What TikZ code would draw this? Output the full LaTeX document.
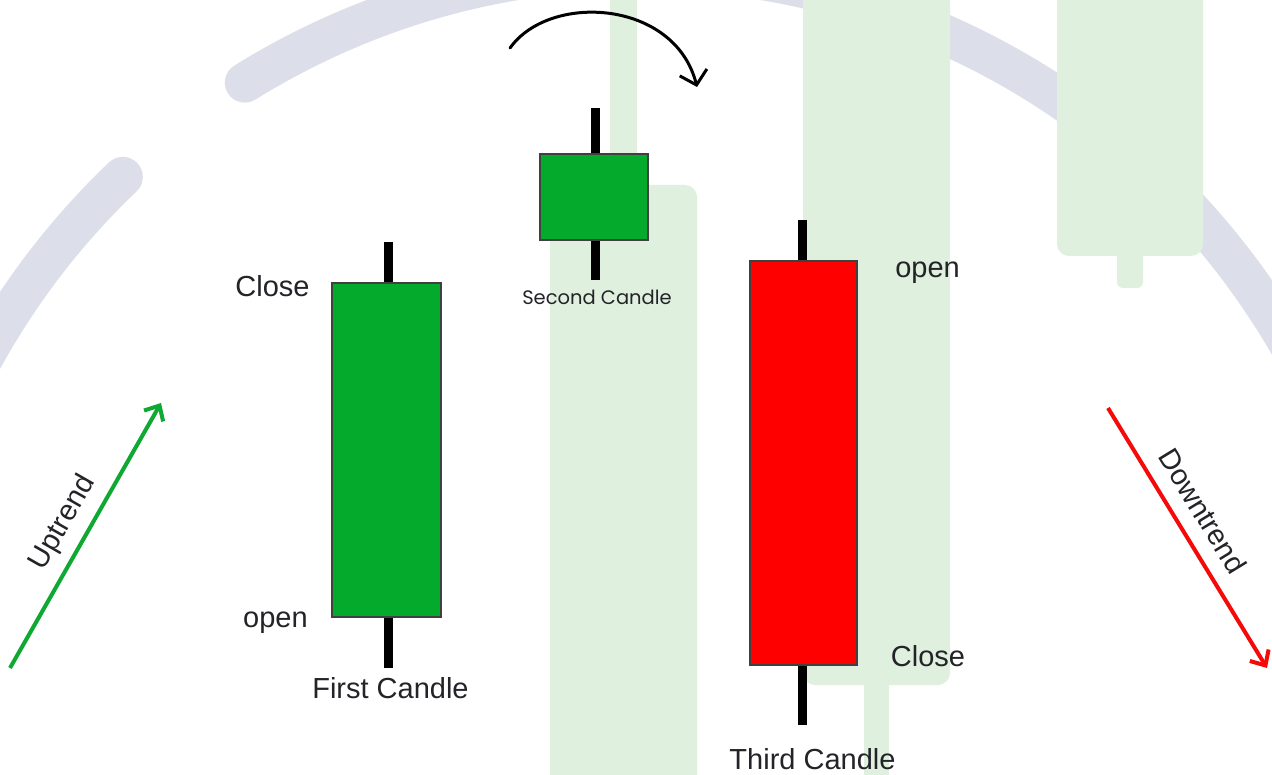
\documentclass[tikz,border=0pt]{standalone}
\usepackage{fontspec}
\setmainfont{Liberation Sans}
\newfontfamily\labfont{Liberation Sans}
\newfontfamily\popfont{Poppins}
\usetikzlibrary{arrows.meta}
\definecolor{bggreen}{RGB}{223,240,223}
\definecolor{arcgray}{RGB}{220,223,234}
\definecolor{candlegreen}{RGB}{3,170,43}
\definecolor{candlered}{RGB}{255,0,0}
\definecolor{trendgreen}{RGB}{14,168,50}
\definecolor{trendred}{RGB}{245,10,10}
\definecolor{labtext}{RGB}{35,35,40}
\begin{document}
\begin{tikzpicture}[x=1pt,y=1pt,
  arcband/.style={draw=arcgray,line width=40pt,line cap=round},
  bgcandle/.style={fill=bggreen,rounded corners=12pt},
  bgwick/.style={fill=bggreen,rounded corners=6pt},
  wick/.style={draw=black,line width=9pt},
  body/.style={draw=black!75,line width=1.2pt},
  lbl/.style={inner sep=0pt,text=labtext,font=\labfont\fontsize{29}{34}\selectfont},
  smalllbl/.style={inner sep=0pt,text=labtext,font=\popfont\fontsize{19.5}{23}\selectfont},
  trend/.style={line width=4pt,-{Straight Barb[length=12pt,width=22pt]}}]
\useasboundingbox (0,0) rectangle (1272,-775);
\clip (0,0) rectangle (1272,-775);
\fill[white] (0,0) rectangle (1272,-775);
% grey arc band
\draw[arcband] ([shift={(133.6:750)}]640,-720) arc[start angle=133.6,end angle=175,radius=750pt];
\draw[arcband] ([shift={(121.8:750)}]640,-720) arc[start angle=121.8,end angle=5,radius=750pt];
% background candles
\fill[bgcandle] (550,-800) -- (550,-185) -- (697,-185) -- (697,-800) -- cycle;
\fill[bggreen] (610,20) rectangle (637,-200);
\fill[bgcandle] (803,30) -- (803,-685) -- (950,-685) -- (950,30) -- cycle;
\fill[bggreen] (864,-670) rectangle (889,-800);
\fill[bgwick] (1117,-240) -- (1117,-288) -- (1143,-288) -- (1143,-240) -- cycle;
\fill[bgcandle] (1057,30) -- (1057,-256) -- (1203,-256) -- (1203,30) -- cycle;
% curved arrow
\draw[line width=3pt,line cap=round,-{Straight Barb[length=13pt,width=28pt]}] (510,-48) .. controls (550,8) and (675,0) .. (697,-87);
% first candle
\draw[wick] (388.5,-242) -- (388.5,-668);
\filldraw[body,fill=candlegreen] (332,-283) rectangle (441,-617);
% second candle
\draw[wick] (595.5,-108) -- (595.5,-280);
\filldraw[body,fill=candlegreen] (540,-154) rectangle (648,-240);
% third candle
\draw[wick] (802.5,-220) -- (802.5,-725);
\filldraw[body,fill=candlered] (750,-261) rectangle (857,-665);
% trend arrows
\coordinate (upS) at (10,-668);
\coordinate (upE) at (161,-403);
\draw[trend,draw=trendgreen] (upS) -- (upE);
\coordinate (dnS) at (1108,-408);
\coordinate (dnE) at (1267,-668);
\draw[trend,draw=trendred] (dnS) -- (dnE);
% labels
\node[lbl,anchor=base] (c1) at (272.5,-297) {Close};
\node[lbl,anchor=base] (o1) at (275.5,-627) {open};
\node[lbl,anchor=base] (f1) at (390.5,-698) {First Candle};
\node[smalllbl,anchor=base] (s2) at (597,-305) {Second Candle};
\node[lbl,anchor=base] (o3) at (927.5,-278) {open};
\node[lbl,anchor=base] (c3) at (928,-666) {Close};
\node[lbl,anchor=base] (t3) at (812.5,-769) {Third Candle};
\node[lbl,rotate=60.3] (up) at (63,-523) {Uptrend};
\node[lbl,rotate=-58.5] (dn) at (1203,-511) {Downtrend};
\end{tikzpicture}
\end{document}
